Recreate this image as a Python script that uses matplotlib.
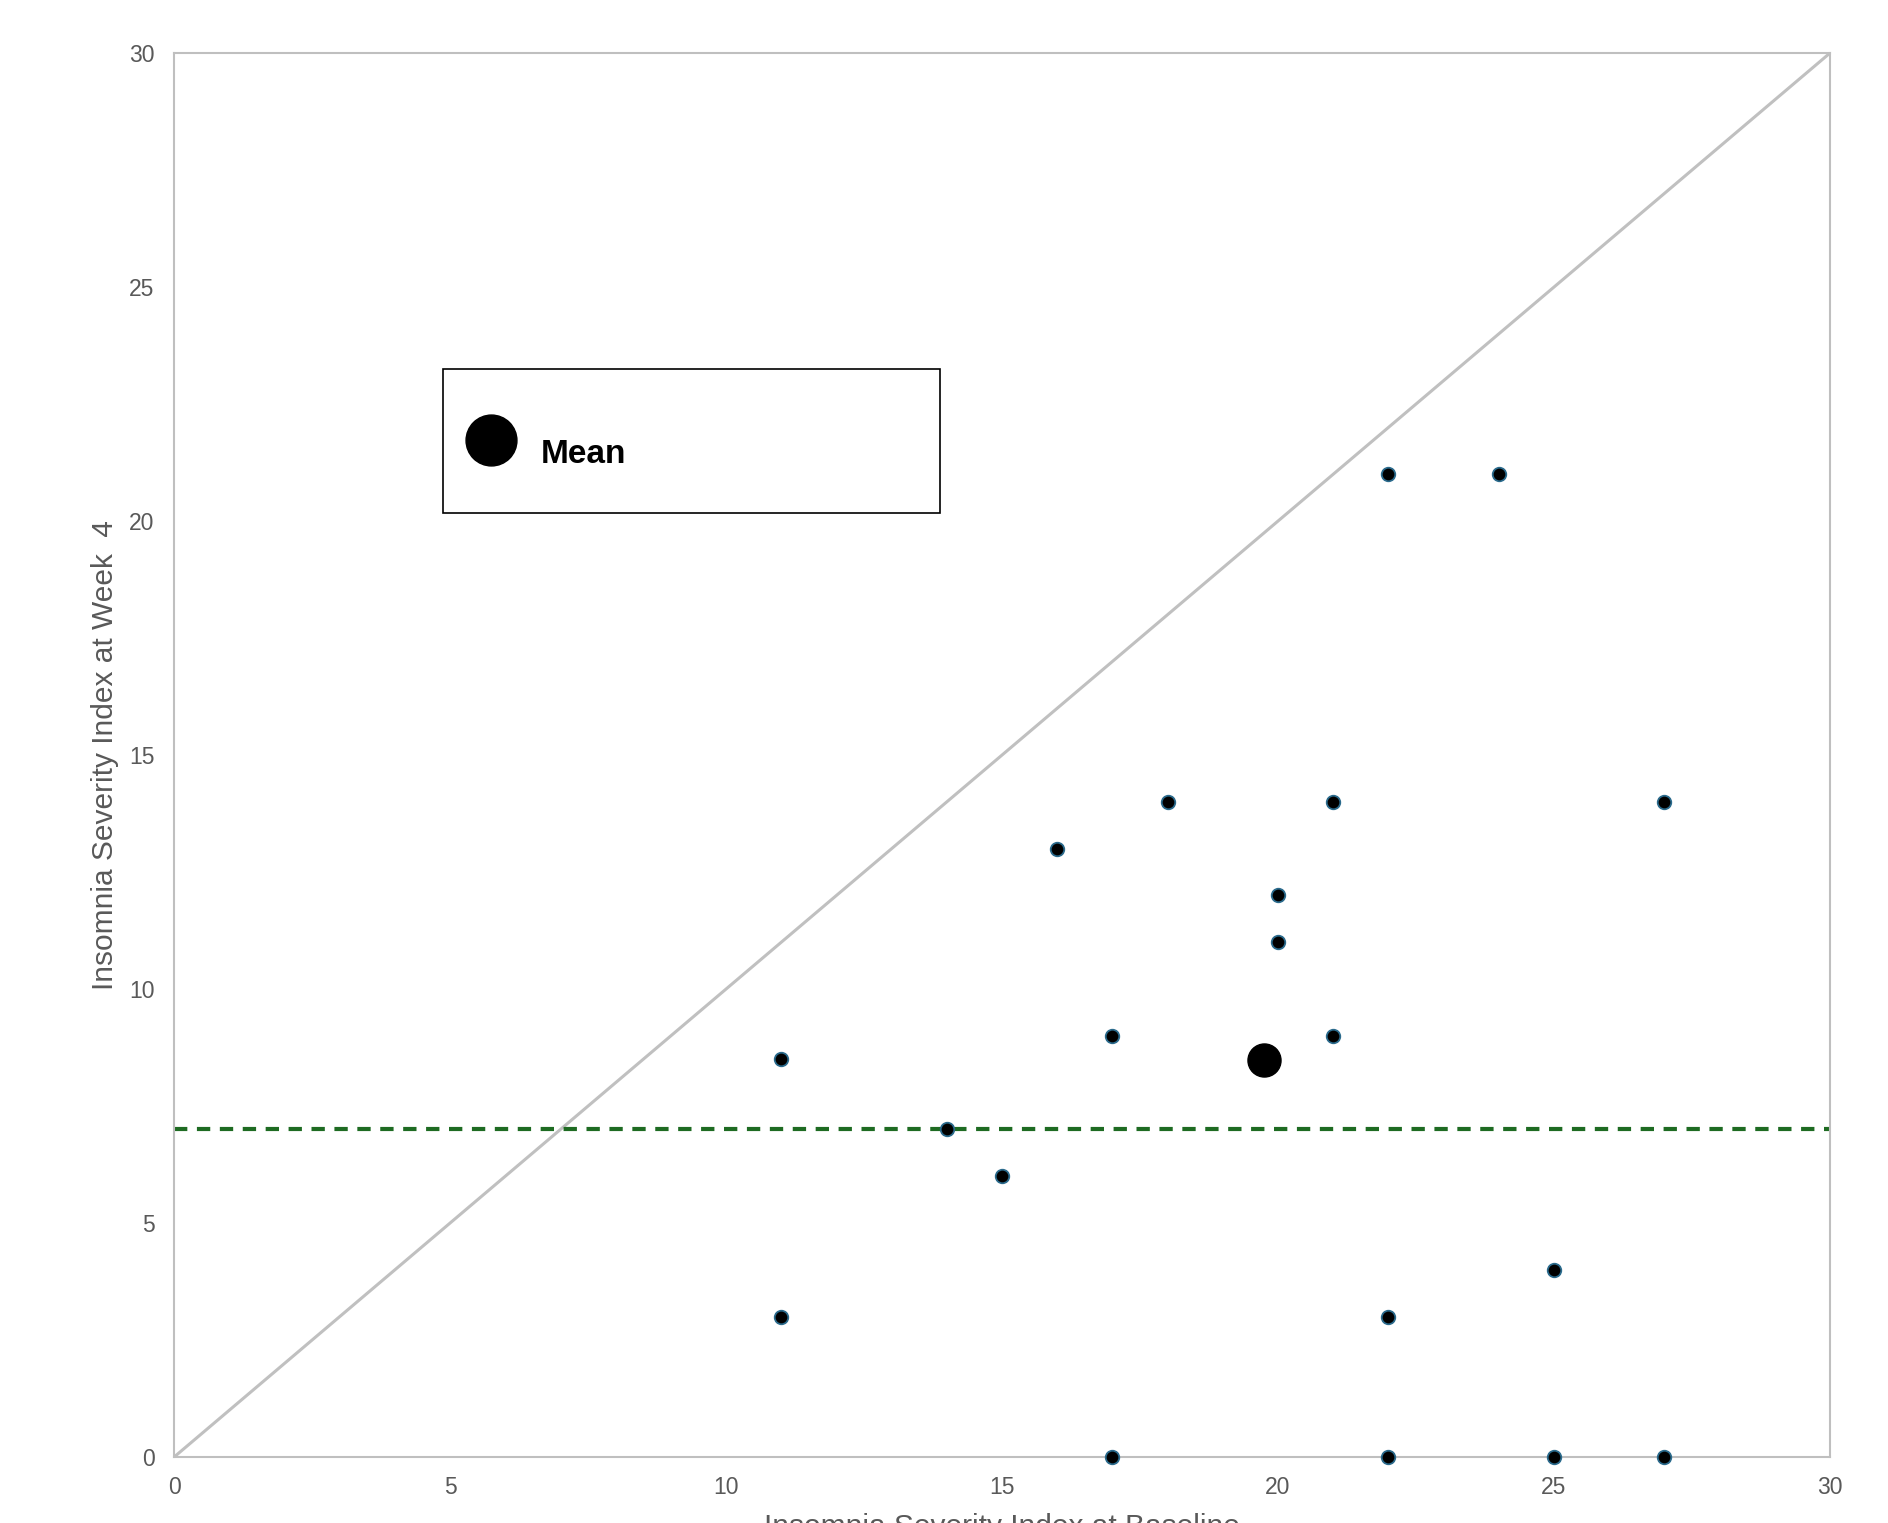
'''
Insomnia severity: baseline vs week 4
'''
import numpy as np
import matplotlib.pyplot as plt
from matplotlib.patches import Rectangle

baseline = [22, 24, 18, 21, 27, 16, 20, 20, 17, 21, 11, 14, 15, 25, 11, 22, 17, 22, 25, 27]
week4 = [21, 21, 14, 14, 14, 13, 12, 11, 9, 9, 8.5, 7, 6, 4, 3, 3, 0, 0, 0, 0]
threshold = 7
ticks = [0, 5, 10, 15, 20, 25, 30]

mean_x = np.mean(baseline)
mean_y = np.mean(week4)

plt.rcParams['font.family'] = ['Liberation Sans', 'DejaVu Sans']

fig = plt.figure(figsize=(18.88, 15.23), dpi=100)
ax = fig.add_axes([0.0922, 0.0433, 0.8771, 0.9219])

# line of no change and the remission cut-off
ax.plot([0, 30], [0, 30], color='#c0c0c0', lw=2.2, zorder=1)
ax.axhline(threshold, color='#1e6b22', lw=3, dashes=(3.2, 2.3), zorder=1)

ax.scatter(baseline, week4, s=95, facecolor='black', edgecolor='#2a6a8c',
           linewidths=1.3, zorder=3, clip_on=False)
mean_pt = ax.scatter([mean_x], [mean_y], s=566, color='black', zorder=4, label='Mean')

ax.set_xlim(0, 30)
ax.set_ylim(0, 30)
ax.set_xticks(ticks)
ax.set_yticks(ticks)
ax.tick_params(length=0, labelsize=16.5, labelcolor='#595959', pad=14)

for s in ax.spines.values():
    s.set_color('#bfbfbf')
    s.set_linewidth(1.5)

ax.set_xlabel('Insomnia Severity Index at Baseline', fontsize=21.5, color='#595959', labelpad=10)
ax.set_ylabel('Insomnia Severity Index at Week  4', fontsize=21.5, color='#595959', labelpad=7)

# boxed legend
ax.add_patch(Rectangle((0.1624, 0.6724), 0.3002, 0.1025, transform=ax.transAxes,
                       fill=False, edgecolor='black', lw=1.2, zorder=5))
ax.legend(handles=[mean_pt], loc='center left', bbox_to_anchor=(0.1781, 0.714),
          frameon=False, markerscale=1.54, handlelength=1.3, handletextpad=0.85,
          scatteryoffsets=[0.99], borderpad=0, borderaxespad=0,
          prop={'weight': 'bold', 'size': 24})

fig.savefig('out.png', dpi=100)
